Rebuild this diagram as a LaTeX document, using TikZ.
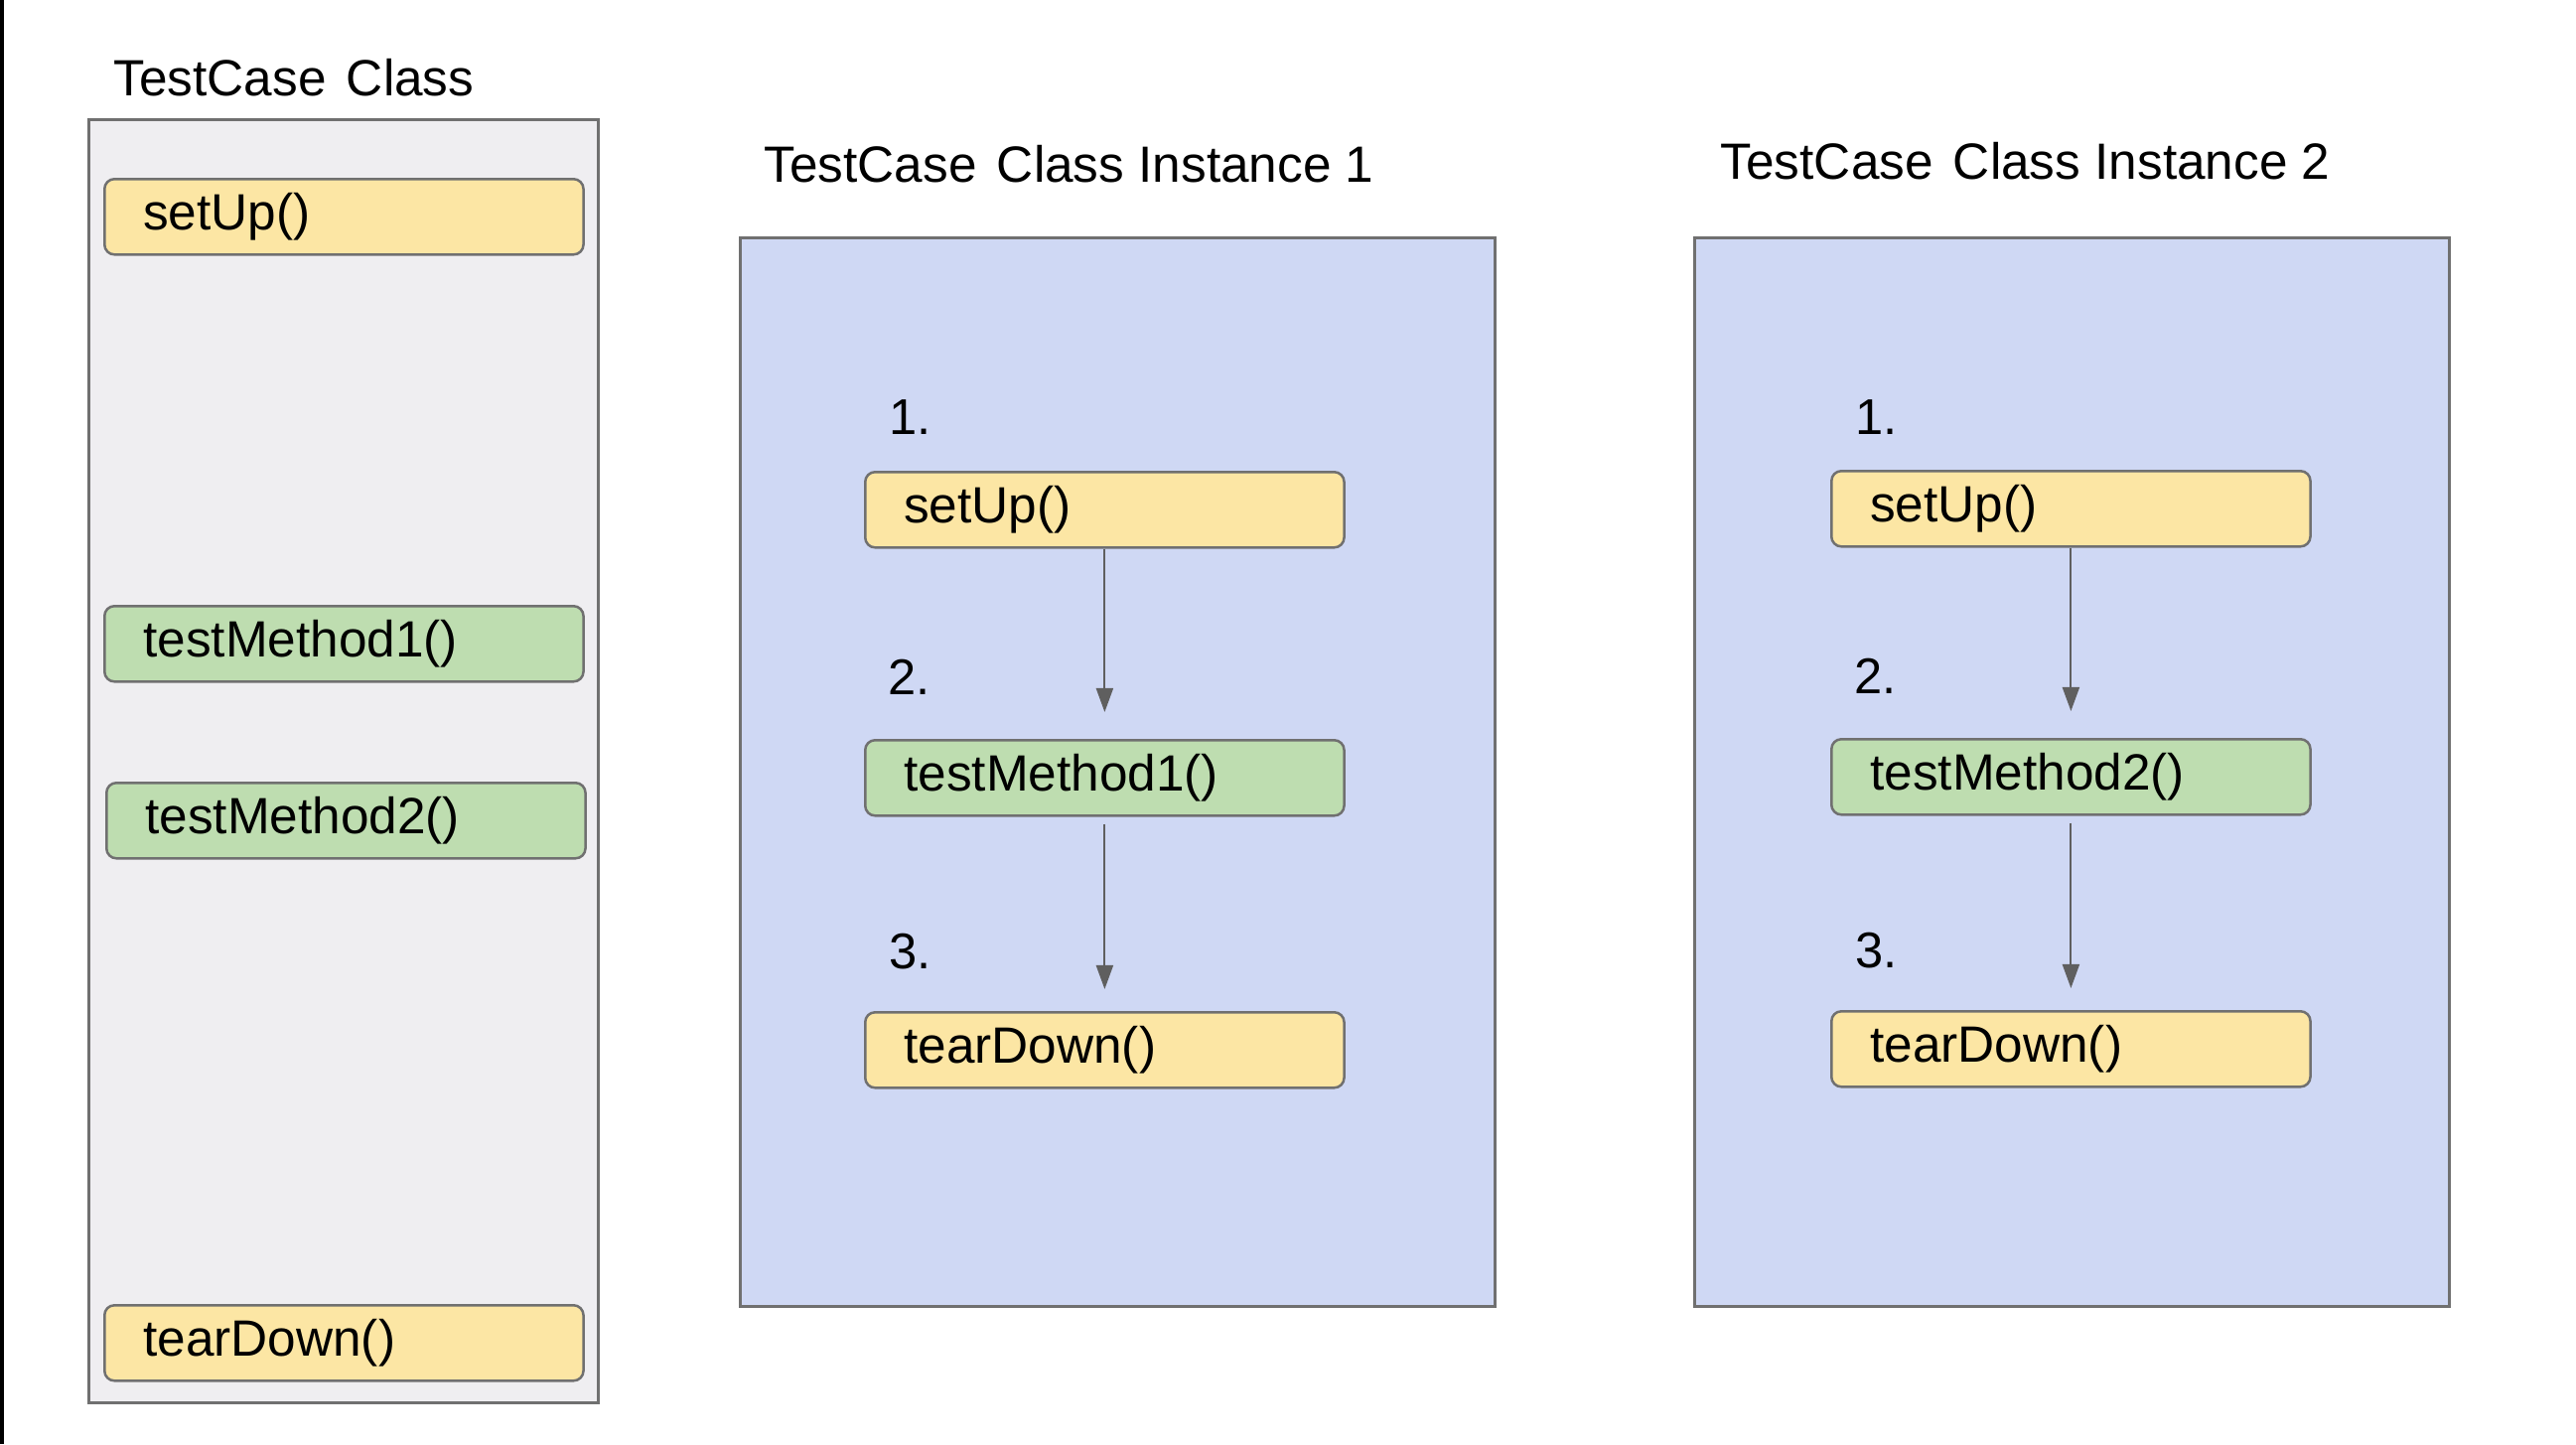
\documentclass[tikz,border=0pt]{standalone}
\usepackage{fontspec}
\setmainfont{Liberation Sans}
\usetikzlibrary{arrows.meta}
\definecolor{panelgray}{RGB}{239,238,241}
\definecolor{panelblue}{RGB}{207,216,244}
\definecolor{boxyellow}{RGB}{252,230,164}
\definecolor{boxgreen}{RGB}{190,221,176}
\definecolor{edgegray}{RGB}{112,112,112}
\definecolor{arrowgray}{RGB}{95,95,95}
\newcommand{\gapsp}{\hspace{0.06cm} }
\begin{document}
\begin{tikzpicture}[x=0.01cm,y=-0.01cm,
  panel/.style={draw=edgegray, line width=0.03cm, inner sep=0pt, anchor=north west},
  method/.style={draw=edgegray, rounded corners=0.1cm, line width=0.025cm,
    minimum height=0.76cm, text width=4.04cm, inner xsep=0.39cm, inner ysep=0pt,
    align=left, font=\fontsize{14.6}{16}\selectfont, anchor=north west},
  setupbox/.style={method, fill=boxyellow},
  testbox/.style={method, fill=boxgreen},
  titletext/.style={anchor=base west, inner sep=0pt, font=\fontsize{14.6}{17}\selectfont},
  numtext/.style={anchor=base west, inner sep=0pt, font=\fontsize{14.4}{17}\selectfont},
  flow/.style={draw=arrowgray, line width=0.02cm, -{Triangle[length=0.24cm,width=0.17cm]}}
]
\useasboundingbox (0,0) rectangle (2594,1454);
\fill[white] (0,0) rectangle (2594,1454);
\fill[black] (0,0) rectangle (4,1454);

% left panel: TestCase Class
\node[titletext] (t0) at (114,96) {TestCase\gapsp Class};
\node[panel, fill=panelgray, minimum width=5.13cm, minimum height=12.91cm] (p0) at (88,119) {};
\node[setupbox] (c0s) at (104,179) {setUp()};
\node[testbox] (c0a) at (104,609) {testMethod1()};
\node[testbox] (c0b) at (106,787) {testMethod2()};
\node[setupbox] (c0t) at (104,1313) {tearDown()};

% middle panel: Instance 1
\node[titletext] (t1) at (769,183) {TestCase\gapsp Class Instance 1};
\node[panel, fill=panelblue, minimum width=7.60cm, minimum height=10.75cm] (p1) at (744,238) {};
\node[numtext] (n11) at (895,437) {1.};
\node[numtext] (n12) at (894,699) {2.};
\node[numtext] (n13) at (895,975) {3.};
\node[setupbox] (m1s) at (870,474) {setUp()};
\node[testbox] (m1t) at (870,744) {testMethod1()};
\node[setupbox] (m1d) at (870,1018) {tearDown()};
\draw[flow, shorten >=0.27cm] (m1s.south) -- (m1t.north);
\draw[flow, shorten <=0.07cm, shorten >=0.22cm] (m1t.south) -- (m1d.north);

% right panel: Instance 2
\node[titletext] (t2) at (1732,180) {TestCase\gapsp Class Instance 2};
\node[panel, fill=panelblue, minimum width=7.60cm, minimum height=10.75cm] (p2) at (1705,238) {};
\node[numtext] (n21) at (1868,437) {1.};
\node[numtext] (n22) at (1867,698) {2.};
\node[numtext] (n23) at (1868,974) {3.};
\node[setupbox] (m2s) at (1843,473) {setUp()};
\node[testbox] (m2t) at (1843,743) {testMethod2()};
\node[setupbox] (m2d) at (1843,1017) {tearDown()};
\draw[flow, shorten >=0.27cm] (m2s.south) -- (m2t.north);
\draw[flow, shorten <=0.07cm, shorten >=0.22cm] (m2t.south) -- (m2d.north);
\end{tikzpicture}
\end{document}
